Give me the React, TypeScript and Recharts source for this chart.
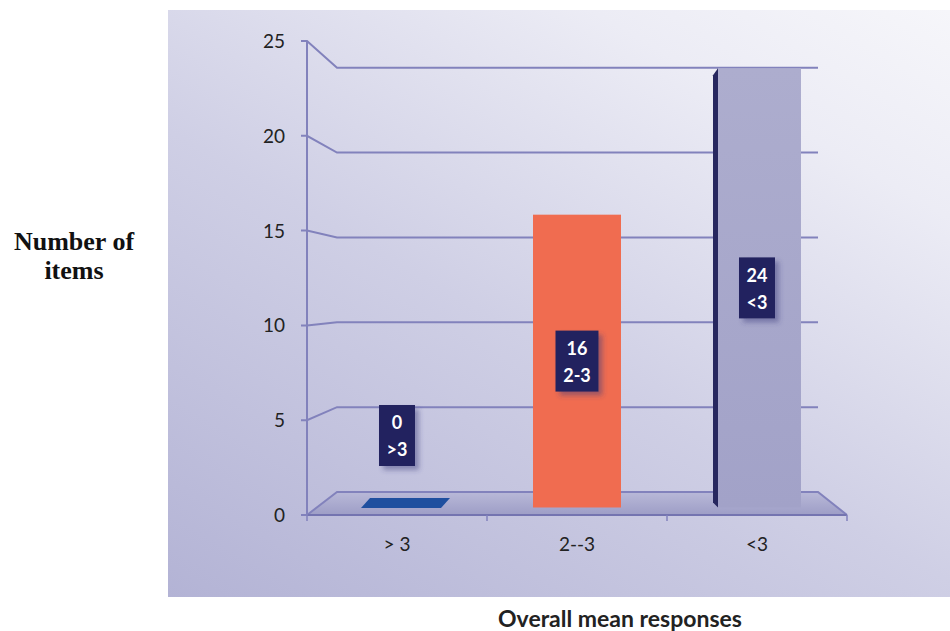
import { Bar, CartesianGrid, ComposedChart, LabelList, Line, XAxis, YAxis } from "recharts";

const categories = ["> 3", "2--3", "<3"];
const itemCounts = [0, 16, 24];
const boxTags = [">3", "2-3", "<3"];
const barColors = ["#1f4f9f", "#f06c50", "#a9a9cc"];
const yTicks = [0, 5, 10, 15, 20, 25];

const data = categories.map((category, i) => ({ category, items: itemCounts[i] }));

// plot box in page pixels
const PLOT_TOP = 41;
const PLOT_BOTTOM = 515;
const DEPTH_X = 30;
const GRID_END = 818;
const LINE = "#8282bc";

function backY(yFront: number) {
  return PLOT_BOTTOM - 23 - (PLOT_BOTTOM - yFront) * 0.895;
}

function GridLine(props: any) {
  const { x1, y1, x2 } = props;
  const yb = backY(y1);
  const isFloor = Math.abs(y1 - PLOT_BOTTOM) < 1;
  return (
    <g key={props.key}>
      {isFloor && (
        <polygon
          fill="url(#floorFill)"
          points={`${x1},${y1} ${x1 + DEPTH_X},${yb} ${GRID_END},${yb} ${x2},${y1}`}
        />
      )}
      <polyline
        fill="none"
        points={`${x1 - 6},${y1} ${x1},${y1} ${x1 + DEPTH_X},${yb} ${GRID_END},${yb}${isFloor ? ` ${x2},${y1}` : ""}`}
        stroke={LINE}
        strokeWidth={2}
      />
    </g>
  );
}

function BarShape(props: any) {
  const { x, y, width, height, index } = props;
  if (height < 1) {
    return (
      <polygon
        fill={barColors[index]}
        points={`${x + 8},${y + 0.5} ${x + width},${y + 0.5} ${x + width + 9},${y - 9.5} ${x + 17},${y - 9.5}`}
      />
    );
  }
  if (index === 2) {
    return (
      <g>
        <rect fill="url(#lavFill)" height={height} width={width - 5} x={x + 5} y={y} />
        <polygon
          fill="#27275f"
          points={`${x},${y + 7} ${x + 5},${y} ${x + 5},${y + height} ${x},${y + height - 5}`}
        />
      </g>
    );
  }
  return <rect fill={barColors[index]} height={height} width={width} x={x} y={y} />;
}

function TagBox(props: any) {
  const { x, y, width, height, value, index } = props;
  const tag = boxTags[index];
  const w = tag.length > 2 ? 43 : 36;
  const h = 61;
  const cx = x + width / 2;
  const cy = height < 1 ? y - 72 : y + height / 2;
  return (
    <g>
      <rect fill="#24235f" filter="url(#boxShadow)" height={h} width={w} x={cx - w / 2} y={cy - h / 2} />
      <text fill="#ffffff" fontFamily="Lato, sans-serif" fontSize={18} fontWeight={700} textAnchor="middle" x={cx} y={cy - 6}>
        {value}
      </text>
      <text fill="#ffffff" fontFamily="Lato, sans-serif" fontSize={18} fontWeight={700} textAnchor="middle" x={cx} y={cy + 21}>
        {tag}
      </text>
    </g>
  );
}

function XTick(props: any) {
  const { x, y, payload, index } = props;
  const half = 90;
  return (
    <g>
      <line stroke={LINE} strokeWidth={1.5} x1={x - half} x2={x - half} y1={y - 8} y2={y - 2} />
      {index === categories.length - 1 && (
        <line stroke={LINE} strokeWidth={1.5} x1={x + half} x2={x + half} y1={y - 8} y2={y - 2} />
      )}
      <text fill="#222" fontFamily="Lato, sans-serif" fontSize={19} textAnchor="middle" x={x} y={y + 28}>
        {payload.value}
      </text>
    </g>
  );
}

function YTick(props: any) {
  const { y, payload } = props;
  return (
    <text fill="#222" fontFamily="Lato, sans-serif" fontSize={19} textAnchor="end" x={285} y={y + 7}>
      {payload.value}
    </text>
  );
}

export default function App() {
  return (
    <div style={{ position: "absolute", left: 0, top: 0, width: 950, height: 631, background: "#fff" }}>
      <div
        style={{
          position: "absolute",
          left: 168,
          top: 10,
          width: 782,
          height: 587,
          background: "linear-gradient(30deg, #b3b3d5 0%, #cfcfe5 45%, #ececf5 80%, #f6f6fa 100%)",
        }}
      />
      <div
        style={{
          position: "absolute",
          left: 0,
          top: 227,
          width: 148,
          textAlign: "center",
          fontFamily: "'Liberation Serif', serif",
          fontWeight: 700,
          fontSize: 26,
          lineHeight: "29px",
          color: "#111",
        }}
      >
        Number of
        <br />
        items
      </div>
      <div
        style={{
          position: "absolute",
          left: 420,
          top: 604,
          width: 400,
          textAlign: "center",
          fontFamily: "Lato, sans-serif",
          fontWeight: 700,
          fontSize: 23,
          color: "#222",
        }}
      >
        Overall mean responses
      </div>
      <div style={{ position: "absolute", left: 0, top: 0 }}>
        <ComposedChart
          data={data}
          height={631}
          margin={{ top: PLOT_TOP, right: 103, bottom: 631 - PLOT_BOTTOM - 40, left: 247 }}
          width={950}
        >
          <defs>
            <linearGradient id="floorFill" x1="0" x2="0" y1="0" y2="1">
              <stop offset="0%" stopColor="#b9b9d8" />
              <stop offset="100%" stopColor="#9d9dc6" />
            </linearGradient>
            <linearGradient id="lavFill" x1="0" x2="0" y1="0" y2="1">
              <stop offset="0%" stopColor="#adadce" />
              <stop offset="100%" stopColor="#a2a2c8" />
            </linearGradient>
            <filter id="boxShadow" height="140%" width="160%" x="-20%" y="-20%">
              <feDropShadow dx={4} dy={4} floodColor="#3a3a7a" floodOpacity={0.45} stdDeviation={2.5} />
            </filter>
          </defs>
          <XAxis
            axisLine={{ stroke: "#7474b0", strokeWidth: 2 }}
            dataKey="category"
            height={40}
            tick={XTick}
            tickLine={false}
          />
          <YAxis
            axisLine={{ stroke: LINE, strokeWidth: 2 }}
            domain={[0, 25]}
            interval={0}
            tick={YTick}
            tickLine={false}
            ticks={yTicks}
            type="number"
            width={60}
            yAxisId="front"
          />
          <YAxis
            allowDataOverflow
            domain={[-0.41, 25.49]}
            hide
            orientation="right"
            type="number"
            width={0}
            yAxisId="bars"
          />
          <CartesianGrid horizontal={GridLine} vertical={false} yAxisId="front" />
          <Bar barSize={88} dataKey="items" isAnimationActive={false} shape={BarShape} yAxisId="bars">
            <LabelList content={TagBox} dataKey="items" />
          </Bar>
          {/* keeps the front axis bound to the data so its ticks are built */}
          <Line
            activeDot={false}
            dataKey="items"
            dot={false}
            isAnimationActive={false}
            stroke="none"
            yAxisId="front"
          />
        </ComposedChart>
      </div>
    </div>
  );
}
